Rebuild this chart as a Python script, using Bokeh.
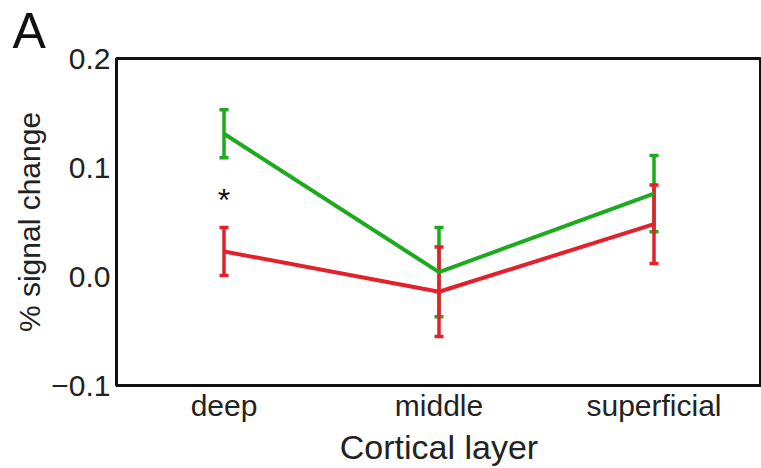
from bokeh.plotting import figure
from bokeh.models import (FactorRange, Range1d, FixedTicker, ColumnDataSource,
                          Whisker, TeeHead, Title)
from bokeh.core.properties import value
from bokeh.embed import file_html
from bokeh.resources import INLINE

# ---- data ----
layers = ["deep", "middle", "superficial"]
green_mean = [0.131, 0.004, 0.076]
green_err = [0.022, 0.041, 0.035]
red_mean = [0.023, -0.014, 0.048]
red_err = [0.022, 0.041, 0.036]
y_ticks = [-0.1, 0.0, 0.1, 0.2]
y_tick_labels = ["\u22120.1", "0.0", "0.1", "0.2"]
star_layer = "deep"
star_y = 0.070
panel_letter = "A"

GREEN = "#1eaa1e"
RED = "#e3202b"
FONT = "Liberation Sans"

p = figure(width=761, height=468, x_range=FactorRange(factors=layers, range_padding=0),
           y_range=Range1d(-0.1, 0.2), output_backend="svg", toolbar_location=None,
           min_border_left=116, min_border_right=0, min_border_top=57, min_border_bottom=81)
p.background_fill_color = "white"
p.border_fill_color = "white"
p.outline_line_color = "#111111"
p.outline_line_width = 3
p.grid.visible = False

for ax in (p.xaxis[0], p.yaxis[0]):
    ax.axis_line_width = 3
    ax.axis_line_color = "#111111"
    ax.major_tick_line_color = None
    ax.minor_tick_line_color = None
    ax.major_tick_out = 0
    ax.major_tick_in = 0
    ax.major_label_text_font = FONT
    ax.major_label_text_font_size = "30px"
    ax.major_label_text_color = "#222222"
    ax.axis_label_text_font = FONT
    ax.axis_label_text_font_style = "normal"
    ax.axis_label_text_color = "#222222"

p.yaxis.ticker = FixedTicker(ticks=y_ticks)
p.yaxis.major_label_overrides = {t: l for t, l in zip(y_ticks, y_tick_labels)}
p.yaxis.major_label_standoff = 6
p.yaxis.axis_label = "% signal change"
p.yaxis.axis_label_text_font_size = "30px"
p.yaxis.axis_label_standoff = 2
p.xaxis.major_label_standoff = 3
p.xaxis.axis_label = "Cortical layer"
p.xaxis.axis_label_text_font_size = "34px"
p.xaxis.axis_label_standoff = 3

def add_series(mean, err, color):
    src = ColumnDataSource(dict(x=layers, y=mean,
                                lo=[m - e for m, e in zip(mean, err)],
                                hi=[m + e for m, e in zip(mean, err)]))
    p.line("x", "y", source=src, line_color=color, line_width=4)
    w = Whisker(base="x", lower="lo", upper="hi", source=src,
                line_color=color, line_width=3.5,
                upper_head=TeeHead(size=9, line_color=color, line_width=3.5),
                lower_head=TeeHead(size=9, line_color=color, line_width=3.5))
    p.add_layout(w)

add_series(green_mean, green_err, GREEN)
add_series(red_mean, red_err, RED)

p.text(x=[star_layer], y=[star_y], text=["*"], text_font=value(FONT),
       text_font_size="32px", text_align="center", text_baseline="alphabetic",
       text_color="#111111")

# panel letter as a title in the top border
p.add_layout(Title(text=panel_letter, text_font=FONT, text_font_size="50px",
                   text_font_style="normal", text_color="#111111",
                   align="left", offset=-104, standoff=0), "above")

open("out.html", "w").write(file_html(p, INLINE))
